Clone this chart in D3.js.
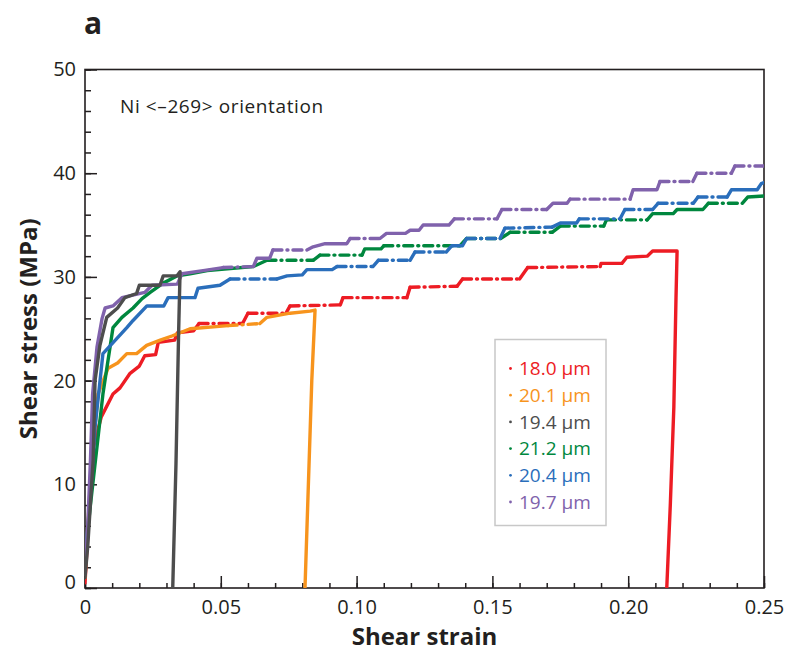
<!DOCTYPE html>
<html>
<head>
<meta charset="utf-8">
<script src="https://cdn.jsdelivr.net/npm/d3@7"></script>
<style>
  body { margin: 0; background: #fff; }
  text { font-family: "Open Sans", "DejaVu Sans", sans-serif; fill: #231f20; }
</style>
</head>
<body>
<script>
// strain, stress (MPa)
var red = [[0,0.5],[0.001,5],[0.003,13.5],[0.006,16.5],[0.0103,18.7],[0.0129,19.3],[0.0166,20.7],[0.020,21.4],[0.022,22.4],[0.026,22.5],[0.027,23.7],[0.033,23.9],[0.034,24.6],[0.040,24.8],[0.042,25.5],[0.058,25.5],[0.060,26.5],[0.074,26.5],[0.0755,27.2],[0.094,27.3],[0.095,28.0],[0.1185,28.0],[0.1197,29.0],[0.137,29.1],[0.139,29.8],[0.160,29.8],[0.163,30.9],[0.1897,31.0],[0.190,31.3],[0.1977,31.3],[0.1995,31.9],[0.207,32.0],[0.209,32.5],[0.218,32.5],[0.2176,28],[0.2168,17.4],[0.2155,8],[0.2142,0]];
var orange = [[0,1],[0.0015,8],[0.0025,12.3],[0.0048,18.7],[0.0085,21.2],[0.012,21.7],[0.0154,22.6],[0.019,22.6],[0.0227,23.4],[0.0277,23.9],[0.032,24.3],[0.0387,25.0],[0.0527,25.3],[0.0644,25.5],[0.067,26.1],[0.0755,26.5],[0.0829,26.7],[0.0847,26.8],[0.0835,20],[0.082,8],[0.081,0]];
var gray = [[0,1],[0.001,4],[0.003,12.3],[0.0037,20],[0.0055,23.4],[0.008,26.1],[0.012,27],[0.0147,28],[0.019,28.4],[0.020,29.2],[0.0276,29.2],[0.0288,30.1],[0.0339,30.1],[0.035,30.5],[0.0345,25],[0.0335,12],[0.0323,0]];
var green = [[0,3],[0.002,8],[0.0066,18.7],[0.0103,25.1],[0.0136,26.1],[0.0177,27.0],[0.021,27.9],[0.024,28.5],[0.0288,29.4],[0.034,30.1],[0.0387,30.3],[0.045,30.6],[0.062,31.0],[0.067,31.6],[0.084,31.6],[0.0865,32.1],[0.102,32.1],[0.103,32.7],[0.109,32.7],[0.110,33.0],[0.138,33.0],[0.1405,33.7],[0.153,33.7],[0.1565,34.3],[0.172,34.3],[0.175,34.9],[0.191,34.9],[0.192,35.5],[0.207,35.5],[0.209,36.1],[0.2166,36.1],[0.218,36.5],[0.2275,36.5],[0.2295,37.1],[0.242,37.1],[0.244,37.7],[0.25,37.8]];
var blue = [[0,2.5],[0.002,9],[0.0037,15.5],[0.0066,22.6],[0.0154,25.1],[0.0177,25.8],[0.0228,27.2],[0.029,27.2],[0.0306,28.0],[0.0405,28.0],[0.0416,28.9],[0.0497,29.2],[0.0534,29.8],[0.0707,29.8],[0.0744,30.1],[0.080,30.2],[0.0817,30.7],[0.091,30.7],[0.0928,31.0],[0.106,31.0],[0.108,31.6],[0.1197,31.6],[0.1215,32.4],[0.133,32.4],[0.135,33.0],[0.139,33.0],[0.1405,33.7],[0.1528,33.7],[0.1546,34.7],[0.172,34.8],[0.175,35.2],[0.181,35.2],[0.182,35.6],[0.197,35.6],[0.1988,36.5],[0.209,36.5],[0.211,37.1],[0.224,37.1],[0.2257,37.7],[0.2364,37.7],[0.238,38.4],[0.2475,38.4],[0.249,39.0],[0.25,39.1]];
var purple = [[0,1.5],[0.001,6],[0.002,12.3],[0.0028,18.7],[0.0044,23.2],[0.0063,26.0],[0.0074,27.0],[0.0103,27.2],[0.0136,28.0],[0.022,28.5],[0.0247,29.2],[0.034,29.3],[0.0357,30.3],[0.0435,30.6],[0.0508,30.9],[0.062,31.0],[0.0633,31.8],[0.068,31.8],[0.0692,32.6],[0.0817,32.6],[0.084,32.9],[0.0884,33.2],[0.0964,33.2],[0.0976,33.7],[0.1086,33.7],[0.111,34.2],[0.118,34.2],[0.1197,34.5],[0.123,34.5],[0.1245,35.0],[0.134,35.0],[0.136,35.6],[0.1517,35.6],[0.1535,36.5],[0.170,36.5],[0.1723,37.1],[0.1775,37.1],[0.1786,37.5],[0.2007,37.5],[0.2018,38.4],[0.2106,38.4],[0.2117,39.2],[0.2238,39.2],[0.2253,40.0],[0.238,40.0],[0.2393,40.7],[0.25,40.7]];

var labels = ["18.0 µm", "20.1 µm", "19.4 µm", "21.2 µm", "20.4 µm", "19.7 µm"];
var colors = ["#ed1c24", "#f7941d", "#4d4d4d", "#00873e", "#2a6ebb", "#8062ac"];
var seriesList = [red, orange, gray, green, blue, purple];
var drawOrder = [0, 1, 3, 4, 5, 2];

var xTicks = [0, 0.05, 0.10, 0.15, 0.20, 0.25],
    xTickLabels = ["0", "0.05", "0.10", "0.15", "0.20", "0.25"],
    yTicks = [0, 10, 20, 30, 40, 50];

var margin = {top: 69.5, right: 26, bottom: 64, left: 85},
    width = 790 - margin.left - margin.right,
    height = 652 - margin.top - margin.bottom;

var svg = d3.select("body")
    .append("svg")
    .attr("width", 790)
    .attr("height", 652);

var g = svg.append("g")
    .attr("transform", "translate(" + margin.left + "," + margin.top + ")");

var x = d3.scaleLinear().domain([0, 0.25]).range([0, width]);
var y = d3.scaleLinear().domain([0, 50]).range([height, 0]);

g.append("clipPath").attr("id", "plot")
    .append("rect").attr("width", width).attr("height", height);

// minor ticks
g.append("g")
    .attr("transform", "translate(0," + height + ")")
    .call(d3.axisBottom(x).ticks(25).tickSize(-5).tickFormat(""))
    .call(function(a) { a.select(".domain").remove(); });
g.append("g")
    .call(d3.axisLeft(y).ticks(25).tickSize(-6).tickFormat(""))
    .call(function(a) { a.select(".domain").remove(); });

// major ticks + labels
var xAxis = g.append("g")
    .attr("transform", "translate(0," + height + ")")
    .call(d3.axisBottom(x).tickValues(xTicks).tickSize(-12).tickPadding(15)
        .tickFormat(function(d, i) { return xTickLabels[i]; }));
var yAxis = g.append("g")
    .call(d3.axisLeft(y).tickValues(yTicks).tickSize(-12).tickPadding(9).tickFormat(d3.format("d")));

[xAxis, yAxis].forEach(function(a) {
    a.select(".domain").remove();
    a.selectAll("text").style("font-size", "20px").attr("fill", "#231f20");
});
xAxis.selectAll("text").attr("dy", "0.55em");
// the "0" on the stress axis sits a little above the corner
yAxis.selectAll(".tick text").filter(function(d) { return d === 0; }).attr("y", -6);
g.selectAll(".tick line").attr("stroke", "#231f20").attr("stroke-width", 1.5);

// frame
g.append("rect")
    .attr("width", width).attr("height", height)
    .attr("fill", "none").attr("stroke", "#231f20").attr("stroke-width", 1.6);

// curves: long flat segments (strain bursts) are sparsely sampled -> dash-dot
var line = d3.line()
    .x(function(d) { return x(d[0]); })
    .y(function(d) { return y(d[1]); });

var curves = g.append("g").attr("clip-path", "url(#plot)");

drawOrder.forEach(function(k) {
    var pts = seriesList[k], runs = [], cur = null;
    for (var i = 1; i < pts.length; i++) {
        var sparse = Math.abs(pts[i][1] - pts[i-1][1]) < 0.2 && (pts[i][0] - pts[i-1][0]) > 0.01;
        if (!cur || cur.sparse != sparse) {
            cur = {sparse: sparse, pts: [pts[i-1]]};
            runs.push(cur);
        }
        cur.pts.push(pts[i]);
    }
    curves.append("g").selectAll("path")
        .data(runs)
        .enter()
            .append("path")
            .attr("d", function(d) { return line(d.pts); })
            .attr("fill", "none")
            .attr("stroke", colors[k])
            .attr("stroke-width", 3.4)
            .attr("stroke-linecap", "round")
            .attr("stroke-linejoin", "round")
            .attr("stroke-dasharray", function(d) { return d.sparse ? "9,5,1,5" : null; });
});

// annotation
g.append("text")
    .attr("x", 35).attr("y", 43)
    .style("font-size", "19px")
    .style("letter-spacing", "0.6px")
    .text("Ni <–269> orientation");

// legend
var legend = g.append("g").attr("transform", "translate(410,270)");
legend.append("rect")
    .attr("width", 111).attr("height", 186)
    .attr("fill", "#fff").attr("stroke", "#c8c8c8").attr("stroke-width", 1.5);
var item = legend.selectAll(".item")
    .data(labels)
    .enter()
        .append("g")
        .attr("class", "item")
        .attr("transform", function(d, i) { return "translate(0," + (29 + i * 26.7) + ")"; });
item.append("circle")
    .attr("cx", 15.5).attr("cy", 0).attr("r", 1.4)
    .attr("fill", function(d, i) { return colors[i]; });
item.append("text")
    .attr("x", 24).attr("dy", "0.35em")
    .style("font-size", "19px")
    .style("fill", function(d, i) { return colors[i]; })
    .text(function(d) { return d; });

// axis titles
svg.append("text")
    .attr("x", margin.left + width / 2).attr("y", 645)
    .attr("text-anchor", "middle")
    .style("font-size", "24px").style("font-weight", "bold")
    .text("Shear strain");
svg.append("text")
    .attr("transform", "translate(37," + (margin.top + height / 2) + ") rotate(-90)")
    .attr("text-anchor", "middle")
    .style("font-size", "24px").style("font-weight", "bold")
    .text("Shear stress (MPa)");

svg.append("text")
    .attr("x", 84).attr("y", 34)
    .style("font-size", "30px").style("font-weight", "bold")
    .text("a");
</script>
</body>
</html>
